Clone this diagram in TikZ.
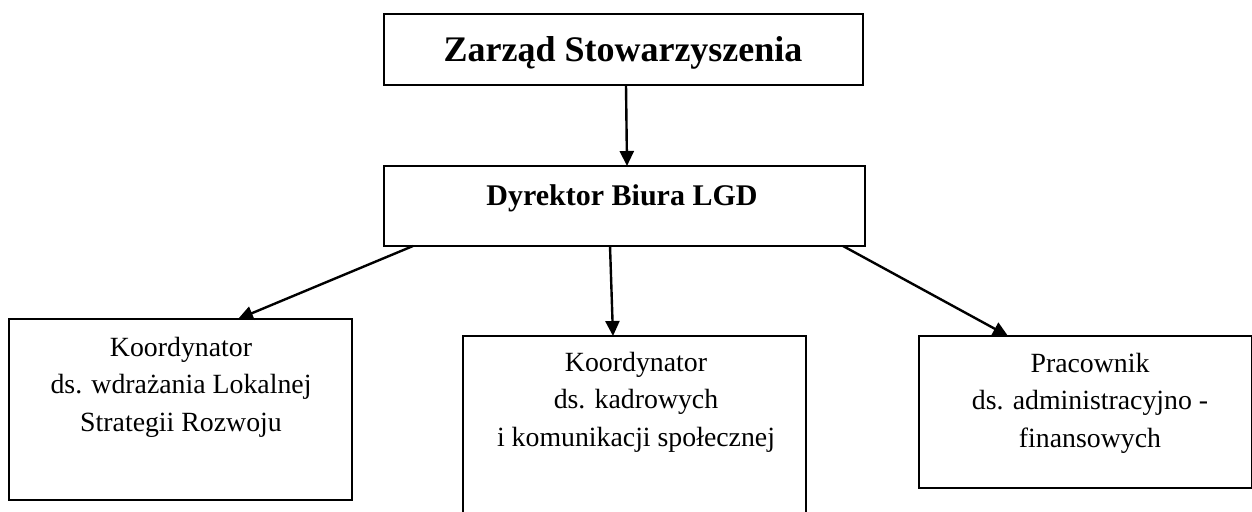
\documentclass[tikz,border=0pt]{standalone}
\usepackage{fontspec}
\setmainfont{Liberation Serif}
\usetikzlibrary{arrows.meta}
\begin{document}
\begin{tikzpicture}[x=1pt,y=-1pt,
  box/.style={draw, line width=1.8pt, inner sep=0pt, outer sep=0pt},
  conn/.style={line width=2.4pt, -{Triangle[length=15pt,width=14pt]}},
  bodytext/.style={align=center, inner sep=0pt, anchor=north, font=\fontsize{27.8}{37.5}\selectfont},
]
\useasboundingbox (0,0) rectangle (1252,511);
\clip (0,0) rectangle (1252,511);
% boxes
\node[box, minimum width=479pt, minimum height=71pt] (zarzad) at (623.5,49.5) {};
\node[box, minimum width=481pt, minimum height=80pt] (dyr) at (624.5,206) {};
\node[box, minimum width=343pt, minimum height=181pt] (lewy) at (180.5,409.5) {};
\node[box, minimum width=343pt, minimum height=200pt] (srodek) at (634.5,436) {};
\node[box, minimum width=333pt, minimum height=152pt] (prawy) at (1085.5,412) {};
% texts
\node[anchor=base, inner sep=0pt, font=\fontsize{36}{40}\selectfont\bfseries] (tz) at (623,62) {Zarząd Stowarzyszenia};
\node[anchor=base, inner sep=0pt, font=\fontsize{30}{34}\selectfont\bfseries] (td) at (622,205) {Dyrektor Biura LGD};
\node[bodytext] (tl) at (181,337) {Koordynator\\ds. wdrażania Lokalnej\\Strategii Rozwoju};
\node[bodytext] (ts) at (636,352) {Koordynator\\ds. kadrowych\\i komunikacji społecznej};
\node[bodytext] (tp) at (1090,353) {Pracownik\\ds. administracyjno -\\finansowych};
% connector end points
\coordinate (a1) at ([xshift=2.5pt]zarzad.south);
\coordinate (b1) at ([xshift=2.5pt]dyr.north);
\coordinate (a2) at ([xshift=29pt]dyr.south west);
\coordinate (b2) at ([xshift=229pt]lewy.north west);
\coordinate (a3) at ([xshift=-14.5pt]dyr.south);
\coordinate (b3) at ([xshift=-21.5pt]srodek.north);
\coordinate (a4) at ([xshift=-22pt]dyr.south east);
\coordinate (b4) at ([xshift=89pt]prawy.north west);
\draw[conn] (a1) -- (b1);
\draw[conn] (a2) -- (b2);
\draw[conn] (a3) -- (b3);
\draw[conn] (a4) -- (b4);
\end{tikzpicture}
\end{document}
